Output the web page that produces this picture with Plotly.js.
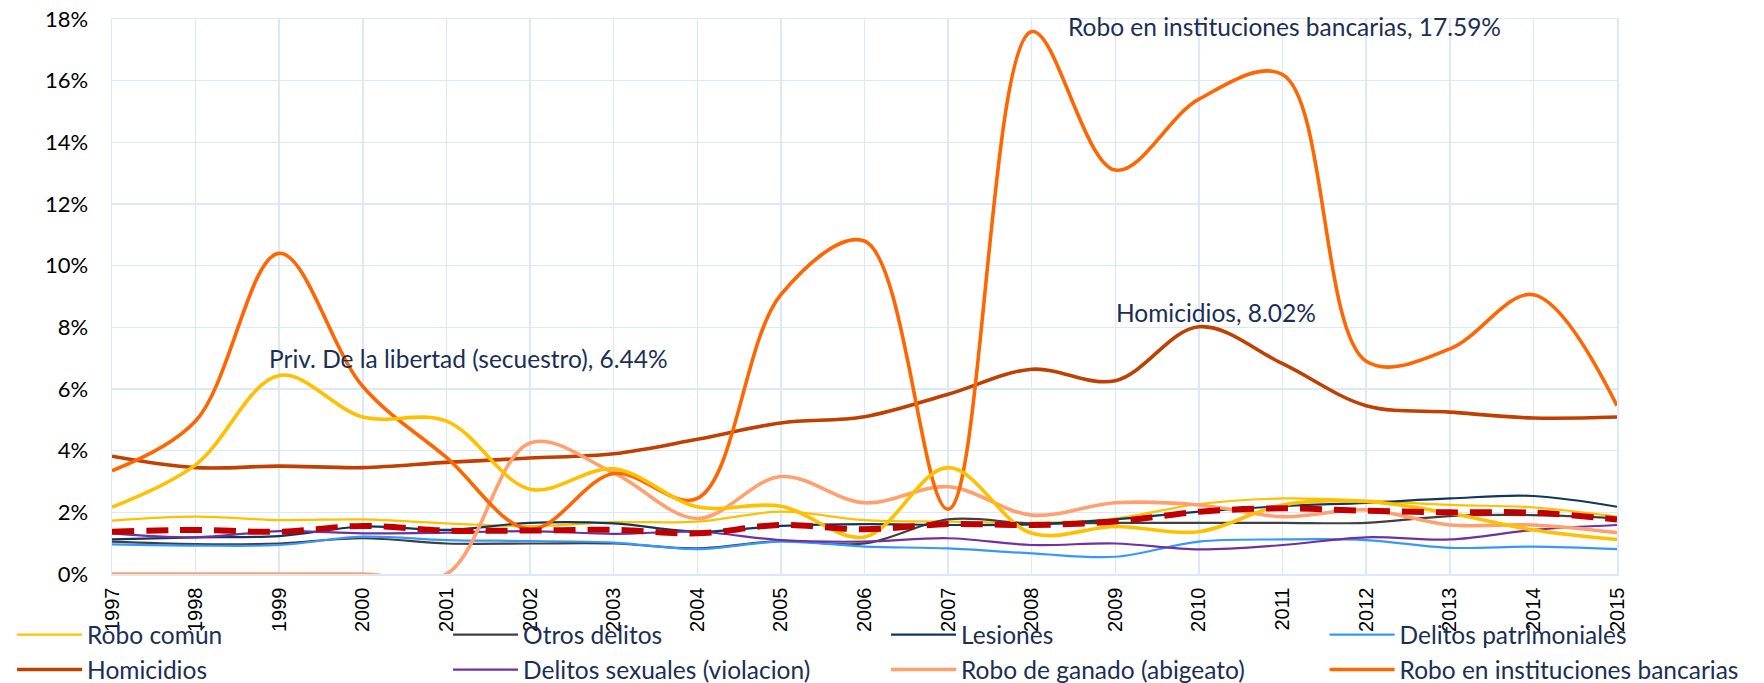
<!DOCTYPE html>
<html>
<head>
<meta charset="utf-8">
<script src="https://cdn.plot.ly/plotly-3.0.1.min.js"></script>
<style>html,body{margin:0;padding:0;background:#fff;}#chart{width:1764px;height:683px;}</style>
</head>
<body>
<div id="chart"></div>
<script>
const years = [1997,1998,1999,2000,2001,2002,2003,2004,2005,2006,2007,2008,2009,2010,2011,2012,2013,2014,2015];
const yTicks = [0,2,4,6,8,10,12,14,16,18];

const roboComun      = [1.73,1.86,1.75,1.77,1.64,1.55,1.68,1.70,2.02,1.75,1.70,1.66,1.80,2.27,2.45,2.38,2.24,2.16,1.86];
const otrosDelitos   = [1.05,0.97,0.99,1.16,0.99,0.99,0.99,0.83,1.07,0.99,1.77,1.64,1.66,1.66,1.66,1.66,1.88,1.91,1.81];
const lesiones       = [1.12,1.19,1.23,1.54,1.43,1.66,1.64,1.37,1.56,1.62,1.59,1.61,1.77,2.02,2.20,2.31,2.45,2.53,2.18];
const patrimoniales  = [0.96,0.92,0.94,1.21,1.10,1.07,1.02,0.81,1.05,0.89,0.83,0.67,0.56,1.05,1.12,1.10,0.85,0.89,0.81];
const homicidios     = [3.82,3.45,3.50,3.45,3.62,3.76,3.90,4.37,4.90,5.10,5.83,6.64,6.27,8.02,6.82,5.46,5.25,5.06,5.09];
const sexuales       = [1.32,1.19,1.39,1.32,1.34,1.39,1.30,1.37,1.10,1.05,1.16,0.94,0.99,0.80,0.94,1.19,1.12,1.43,1.59];
const abigeato       = [0,0,0,0,0,4.25,3.28,1.80,3.16,2.31,2.83,1.91,2.31,2.24,1.86,2.08,1.59,1.59,1.34];
const bancarias      = [3.35,4.96,10.4,6.08,3.78,1.45,3.26,2.45,9.06,10.8,2.10,17.59,13.1,15.4,16.2,6.9,7.3,9.06,5.46];
const secuestro      = [2.17,3.54,6.44,5.09,4.96,2.75,3.41,2.18,2.20,1.20,3.45,1.32,1.54,1.37,2.24,2.35,1.97,1.43,1.12];
const promedio       = [1.37,1.43,1.37,1.56,1.41,1.41,1.43,1.32,1.59,1.45,1.62,1.59,1.70,2.02,2.13,2.05,2.00,1.99,1.77];

const FONT = 'Lato, "Open Sans", sans-serif';
const TXT = '#1B2F55';
const GRID = '#DAE8FA';

function tr(name, y, color, width, legend, extra) {
  return Object.assign({
    type: 'scatter', mode: 'lines', name: name, x: years, y: y,
    line: {color: color, width: width, shape: 'spline', smoothing: 1},
    legend: legend, hoverinfo: 'skip'
  }, extra || {});
}

const data = [
  tr('Robo común', roboComun, '#FFC000', 2.2, 'legend'),
  tr('Otros delitos', otrosDelitos, '#404040', 2.2, 'legend2'),
  tr('Lesiones', lesiones, '#10375C', 2.2, 'legend3'),
  tr('Delitos patrimoniales', patrimoniales, '#3399FF', 2.2, 'legend4'),
  tr('Homicidios', homicidios, '#BF4000', 3.6, 'legend'),
  tr('Delitos sexuales (violacion)', sexuales, '#7030A0', 2.2, 'legend2'),
  tr('Robo de ganado (abigeato)', abigeato, '#FFA06E', 3.6, 'legend3'),
  tr('Robo en instituciones bancarias', bancarias, '#FF6600', 3.6, 'legend4'),
  tr('Priv. De la libertad (secuestro)', secuestro, '#FFC000', 3.6, 'legend', {showlegend: false}),
  tr('Promedio', promedio, '#C00000', 6, 'legend', {showlegend: false, line: {color: '#C00000', width: 6, shape: 'spline', smoothing: 1, dash: '22px,12px'}})
];

function leg(x) {
  return {
    x: x, xanchor: 'left', y: -0.069, yanchor: 'top', xref: 'paper', yref: 'paper',
    orientation: 'v', bgcolor: 'rgba(0,0,0,0)', tracegroupgap: 0, itemwidth: 65,
    font: {family: FONT, size: 24.5, color: TXT}
  };
}

const layout = {
  width: 1764, height: 683,
  margin: {l: 112, r: 147, t: 19, b: 109, autoexpand: false},
  paper_bgcolor: '#ffffff', plot_bgcolor: '#ffffff',
  showlegend: true,
  legend: leg(-0.0664),
  legend2: leg(0.2233),
  legend3: leg(0.5143),
  legend4: leg(0.8057),
  xaxis: {
    range: [1997, 2015], tickvals: years, ticktext: years.map(String), tickangle: -90,
    tickfont: {family: '"Liberation Sans", Arial, sans-serif', size: 20, color: '#000'},
    showgrid: true, gridcolor: GRID, gridwidth: 1.5, zeroline: false,
    showline: true, linecolor: GRID, linewidth: 1.5, mirror: true, ticks: '', ticklabelstandoff: 4
  },
  yaxis: {
    range: [0, 18], tickvals: yTicks, ticktext: yTicks.map(v => v + '%'),
    tickfont: {family: FONT, size: 22, color: '#000'},
    showgrid: true, gridcolor: GRID, gridwidth: 1.5, zeroline: false,
    showline: true, linecolor: GRID, linewidth: 1.5, mirror: true, ticks: '', ticklabelstandoff: 18
  },
  annotations: [
    {x: 2008, y: bancarias[11], xref: 'x', yref: 'y', text: 'Robo en instituciones bancarias, ' + bancarias[11].toFixed(2) + '%',
     showarrow: false, xanchor: 'left', yanchor: 'middle', xshift: 34, yshift: 5, font: {family: FONT, size: 24.5, color: TXT}},
    {x: 2010, y: homicidios[13], xref: 'x', yref: 'y', text: 'Homicidios, ' + homicidios[13].toFixed(2) + '%',
     showarrow: false, xanchor: 'center', yanchor: 'bottom', xshift: 17, yshift: -2, font: {family: FONT, size: 24.5, color: TXT}},
    {x: 1999, y: secuestro[2], xref: 'x', yref: 'y', text: 'Priv. De la libertad (secuestro), ' + secuestro[2].toFixed(2) + '%',
     showarrow: false, xanchor: 'left', yanchor: 'bottom', xshift: -12, yshift: 0, font: {family: FONT, size: 24.5, color: TXT}}
  ]
};

Plotly.newPlot('chart', data, layout, {displayModeBar: false, staticPlot: true});
</script>
</body>
</html>
